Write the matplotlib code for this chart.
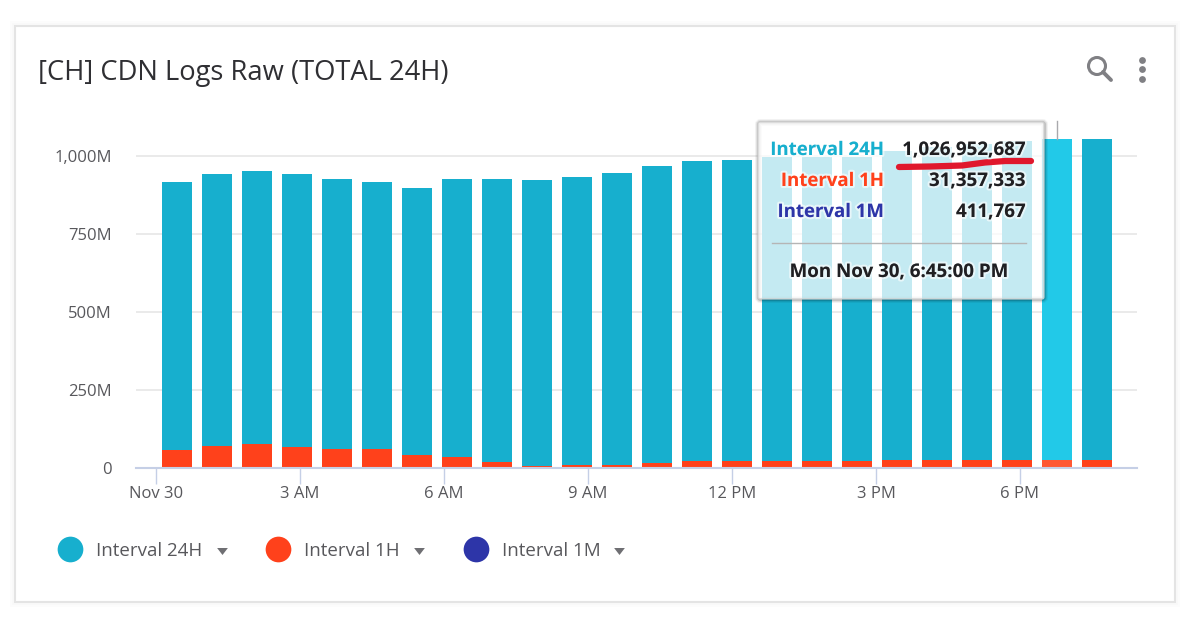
import matplotlib
matplotlib.use("Agg")
import matplotlib.pyplot as plt
from matplotlib.lines import Line2D
from matplotlib.patches import Rectangle, FancyBboxPatch, Circle
from matplotlib.ticker import FixedLocator, FuncFormatter
import matplotlib.patheffects as pe

plt.rcParams["font.family"] = ["Open Sans", "DejaVu Sans"]

# ---- data ----
title = "[CH] CDN Logs Raw (TOTAL 24H)"
bar_times = ["00:26", "01:16", "02:06", "02:56", "03:46", "04:36", "05:26", "06:16",
             "07:06", "07:56", "08:46", "09:36", "10:26", "11:16", "12:06", "12:56",
             "13:46", "14:36", "15:26", "16:16", "17:06", "17:56", "18:46", "19:36"]
interval_1h = [58, 71, 77, 66, 61, 61, 41, 35, 20, 6, 9, 9, 16, 21, 21, 21,
               21, 21, 27, 27, 27, 27, 27, 27]
interval_1m = [0.4] * 24
interval_24h = [859, 871, 875, 876, 865, 856, 856, 891, 906, 917, 924, 936, 952, 963, 966, 976,
                976, 976, 989, 1002, 1011, 1021, 1026.95, 1027]
hover_index = 22
y_ticks = [0, 250, 500, 750, 1000]
x_tick_hours = [0, 3, 6, 9, 12, 15, 18]
x_tick_labels = ["Nov 30", "3 AM", "6 AM", "9 AM", "12 PM", "3 PM", "6 PM"]
series_names = ["Interval 24H", "Interval 1H", "Interval 1M"]
tooltip_values = ["1,026,952,687", "31,357,333", "411,767"]
tooltip_time = "Mon Nov 30, 6:45:00 PM"

# ---- styles ----
C24, C1H, C1M = "#17AFCE", "#FF411B", "#2D35A8"
C24_HOVER, C1H_HOVER = "#22C9E8", "#FF5733"
W, H = 1200, 621
AX_L, AX_R, AX_T, AX_B = 136, 1137, 122, 468

fig = plt.figure(figsize=(W / 100, H / 100), dpi=100, facecolor="white")

# background layer in pixel coordinates (card)
bg = fig.add_axes([0, 0, 1, 1], zorder=0)
bg.set_xlim(0, W); bg.set_ylim(H, 0); bg.axis("off")
for grow, col in [(5, "#fcfcfc"), (3, "#f9f9f9")]:
    bg.add_patch(Rectangle((15 - grow, 26 - grow), 1160 + 2 * grow, 576 + 2 * grow,
                           fc=col, ec="none"))
bg.add_patch(Rectangle((15, 26), 1160, 576, fc="white", ec="#e4e4e4", lw=1.5))
bg.text(38, 73, title, fontsize=19.7, color="#2f2f33", va="center", ha="left")

# magnifier and kebab icons
ICON = "#808084"
bg.add_patch(Circle((1097, 66), 8.5, fc="none", ec=ICON, lw=2.2))
bg.plot([1103, 1111], [72, 80], color=ICON, lw=2.8, solid_capstyle="round")
bg.scatter([1142, 1142, 1142], [59.5, 69, 78.5], s=24, color=ICON, linewidths=0)

# chart
ax = fig.add_axes([AX_L / W, 1 - AX_B / H, (AX_R - AX_L) / W, (AX_B - AX_T) / H], zorder=1)
ax.patch.set_alpha(0)
x = [int(t[:2]) + int(t[3:]) / 60 for t in bar_times]
WIDTH = 0.615
col_24 = [C24_HOVER if i == hover_index else C24 for i in range(len(x))]
col_1h = [C1H_HOVER if i == hover_index else C1H for i in range(len(x))]
ax.bar(x, interval_1m, WIDTH, bottom=interval_1h, color=C1M, zorder=2)
ax.bar(x, interval_24h, WIDTH, bottom=interval_1h, color=col_24, zorder=3)
ax.bar(x, interval_1h, WIDTH, color=col_1h, zorder=3)

ax.set_xlim(-20 / 48, (AX_R - 156) / 48)
ax.set_ylim(0, (AX_B - AX_T) / 0.3123)
ax.yaxis.set_major_locator(FixedLocator(y_ticks))
ax.yaxis.set_major_formatter(FuncFormatter(lambda v, _: "0" if v == 0 else f"{v:,.0f}M"))
ax.set_xticks(x_tick_hours, x_tick_labels)
ax.grid(axis="y", color="#e6e6e6", lw=1.2, zorder=0)
ax.set_axisbelow(True)
for s in ["top", "left", "right"]:
    ax.spines[s].set_visible(False)
ax.spines["bottom"].set_color("#c5cfe6")
ax.spines["bottom"].set_linewidth(1.5)
ax.spines["bottom"].set_zorder(4)
ax.tick_params(axis="y", length=0, pad=17.5, labelsize=12, labelcolor="#58585c")
ax.tick_params(axis="x", length=11.5, width=1, color="#c5cfe6", pad=1.5,
               labelsize=12, labelcolor="#58585c")

# legend
handles = [Line2D([], [], ls="none", marker="o", ms=18.5, color=c, mew=0) for c in (C24, C1H, C1M)]
leg = fig.legend(handles, series_names, loc="center left",
                 bbox_to_anchor=(55 / W, 1 - 551 / H), ncol=3, frameon=False,
                 fontsize=13.5, labelcolor="#58585c", handletextpad=0.587,
                 columnspacing=3.25, handlelength=1.6, borderpad=0, borderaxespad=0)

# foreground layer in pixel coordinates (tooltip, dropdown arrows)
fg = fig.add_axes([0, 0, 1, 1], zorder=5)
fg.set_xlim(0, W); fg.set_ylim(H, 0); fg.axis("off"); fg.patch.set_alpha(0)
fg.scatter([222, 419, 619], [551, 551, 551], marker=[(-1, 0.65), (1, 0.65), (0, -0.65)],
           s=60, color="#6f6f73", linewidths=0)

# hover crosshair above the bar
fg.plot([1056.5, 1056.5], [121, 139], color="#a9a9ad", lw=1)

# tooltip: translucent white box with an outline-only soft shadow
for lw, a in [(5, 0.05), (3.5, 0.08), (2, 0.14)]:
    fg.add_patch(FancyBboxPatch((758.5, 122.5), 286, 177,
                                boxstyle="round,pad=0,rounding_size=2",
                                fc="none", ec=(0, 0, 0, a), lw=lw))
fg.add_patch(FancyBboxPatch((758, 122), 286, 177, boxstyle="round,pad=0,rounding_size=2",
                            fc=(1, 1, 1, 0.75), ec="#cfcfcf", lw=0.8))
glow = [pe.withStroke(linewidth=3, foreground=(1, 1, 1, 0.6))]
rows_y = [150, 181, 212]
for name, val, c, yy in zip(series_names, tooltip_values, (C24, C1H, C1M), rows_y):
    fg.text(884, yy, name, ha="right", va="center", fontsize=13.4, fontweight="bold",
            color=c, path_effects=glow)
    fg.text(1026, yy, val, ha="right", va="center", fontsize=13.5, fontweight="bold",
            color="#1f1f22", path_effects=glow)
fg.plot([772, 1026], [243, 243], color="#b5b5b5", lw=1)
fg.text(899, 272, tooltip_time, ha="center", va="center", fontsize=13.5, fontweight="bold",
        color="#1f1f22", path_effects=glow)

# hand-drawn red underline
fg.plot([899, 930, 962, 985, 1005, 1031], [167, 166.5, 165.5, 162.5, 161, 161],
        color="#E0182D", lw=4.5, solid_capstyle="round")

fig.savefig("out.png", dpi=100, facecolor="white")
